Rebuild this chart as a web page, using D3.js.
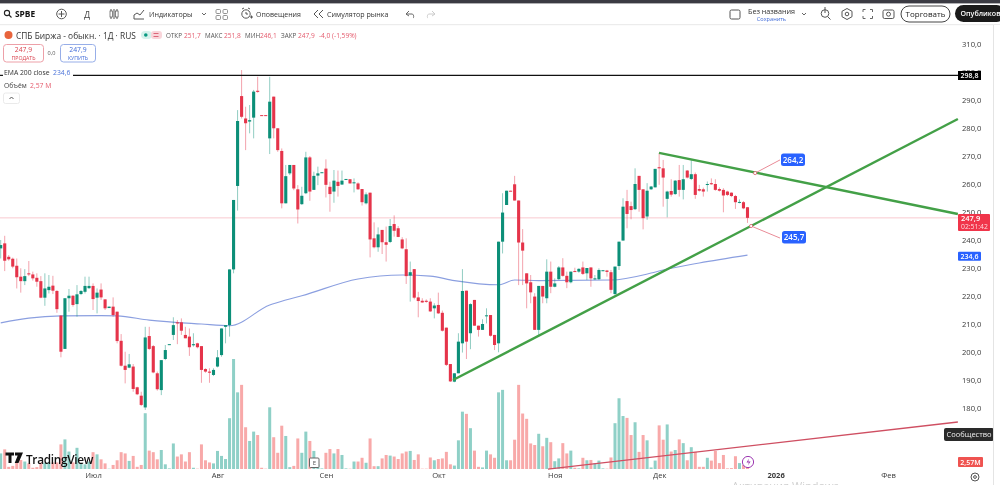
<!DOCTYPE html>
<html lang="ru"><head><meta charset="utf-8">
<script src="https://cdn.jsdelivr.net/npm/d3@7"></script>
<style>
html,body{margin:0;padding:0;background:#fff;overflow:hidden}
svg{display:block;filter:blur(.3px)}
text{font-family:"Open Sans",sans-serif}
.axis .domain{display:none}
.axis text{fill:#3a3a3a;font-family:"Open Sans",sans-serif}
</style></head><body>
<svg id="c" width="1000" height="485" viewBox="0 0 1000 485"></svg>
<script>
const opens=[237.0,238.8,234.0,233.3,230.8,226.9,225.3,228.1,227.7,226.5,
225.3,219.4,222.1,223.7,221.8,213.0,201.1,219.2,220.1,217.1,
220.7,221.5,222.8,223.6,219.4,222.3,218.8,215.7,216.2,214.4,
204.0,195.1,194.4,194.8,187.4,184.4,180.2,205.7,202.1,192.4,
186.4,197.5,202.7,206.1,210.6,210.6,206.1,205.5,202.4,203.1,
202.1,193.9,193.0,191.8,194.8,198.9,209.0,209.6,229.5,259.3,
291.4,283.4,282.3,283.7,293.3,284.6,284.6,276.3,291.2,279.9,
271.8,253.1,263.8,266.8,258.1,252.8,256.7,269.5,257.9,263.0,
264.0,265.5,259.0,257.3,260.8,259.8,261.7,261.7,260.4,260.2,
258.2,253.1,256.9,240.6,237.4,243.6,239.2,239.3,245.7,244.2,
240.2,236.7,227.3,229.6,219.5,218.3,218.3,218.0,215.6,216.8,
214.0,208.7,195.7,189.4,192.4,203.1,221.9,206.7,218.6,209.4,
207.9,212.9,213.2,206.1,203.1,239.4,252.5,257.6,259.9,254.1,
239.1,228.1,224.9,219.8,207.9,223.6,219.2,228.7,223.3,226.0,
230.2,227.2,224.9,228.9,228.7,230.2,228.1,230.2,226.2,226.0,
228.9,229.1,228.5,220.7,230.7,239.8,253.9,252.1,251.0,262.9,
258.1,248.4,258.1,258.8,266.0,265.6,254.7,257.5,256.4,261.4,
257.9,264.8,261.8,263.5,258.2,258.1,259.7,260.3,260.0,258.2,
257.9,257.3,256.9,255.7,253.3,253.5,251.7];
const closes=[238.2,232.6,233.1,230.5,226.7,225.3,227.1,227.7,226.3,225.1,
219.4,222.7,223.3,221.9,215.3,200.1,219.2,220.1,216.8,220.6,
221.8,223.6,223.6,218.9,221.2,219.5,215.6,216.2,213.2,203.9,
195.1,193.6,195.6,186.8,184.9,181.1,205.2,201.1,192.7,186.7,
197.1,200.7,202.8,209.6,210.2,207.6,204.9,201.7,202.8,201.7,
193.6,193.0,192.6,193.6,198.1,208.4,209.6,229.5,254.3,282.5,
284.0,281.7,282.8,293.0,292.9,284.5,284.5,289.4,279.9,272.1,
253.1,262.8,266.8,258.4,250.9,255.8,269.5,257.3,262.9,263.8,
264.2,259.7,256.4,261.2,259.3,261.2,261.8,260.2,260.6,258.1,
253.5,256.3,240.2,237.4,242.0,239.2,238.3,245.0,243.3,241.1,
237.0,227.1,228.5,219.4,218.2,217.7,217.9,214.5,216.6,213.8,
207.6,195.4,189.5,192.4,203.7,221.8,203.7,217.1,209.4,207.9,
210.0,213.1,205.8,202.5,239.4,249.8,257.6,257.5,254.1,239.1,
236.2,224.5,221.3,207.9,223.6,219.8,228.7,223.3,224.5,230.2,
227.2,224.9,228.7,228.7,229.7,227.9,230.0,226.3,226.3,229.3,
229.2,228.6,222.2,230.5,239.4,251.9,249.3,250.7,260.0,257.9,
247.8,257.6,259.1,265.4,265.6,262.3,257.3,256.2,261.2,257.9,
261.7,262.3,263.5,256.1,257.6,257.3,260.0,259.9,257.9,257.6,
255.9,256.1,255.7,253.5,253.6,251.3,247.9];
const highs=[240.0,241.5,234.6,233.7,233.4,229.9,229.6,232.5,228.7,228.1,
227.1,228.1,227.5,227.2,222.1,213.2,219.2,222.5,220.3,223.9,
222.1,226.9,226.9,224.5,222.7,224.5,218.8,216.2,219.5,214.4,
206.4,200.1,199.3,195.7,187.6,185.8,209.0,209.0,202.5,193.0,
197.1,202.5,202.8,212.4,211.4,212.0,209.0,208.4,206.7,203.3,
202.1,194.2,194.2,194.2,200.7,208.4,209.6,229.5,254.3,286.4,
300.7,287.6,288.2,293.6,298.3,284.6,284.6,298.3,291.2,279.9,
272.7,266.8,266.8,266.8,259.6,259.0,271.5,270.0,264.4,266.2,
264.2,268.8,260.8,265.0,264.8,264.8,261.8,261.7,262.0,260.6,
258.2,257.0,256.9,246.3,244.5,243.6,244.8,247.5,248.8,245.0,
241.0,240.6,232.3,229.6,221.5,219.2,218.8,219.2,217.4,221.2,
214.8,208.7,195.7,192.4,206.7,229.6,221.9,217.4,218.6,209.4,
211.7,215.6,213.2,206.1,239.4,256.7,257.6,257.6,262.9,254.1,
243.9,228.1,227.5,221.0,223.6,223.6,233.1,232.3,226.3,230.7,
233.5,228.7,228.7,230.1,229.9,232.3,230.0,230.2,227.5,229.9,
229.2,229.3,229.3,230.5,239.4,254.9,257.9,253.7,265.6,262.9,
258.1,260.3,259.3,265.4,271.0,268.6,257.6,261.7,261.4,266.8,
266.8,265.0,268.6,264.1,259.7,258.7,260.9,262.0,261.7,258.8,
258.5,257.6,257.0,256.1,254.5,253.9,251.8];
const lows=[233.4,228.9,232.6,229.9,222.7,221.2,223.9,227.1,225.5,223.3,
219.2,216.5,220.9,220.7,214.0,198.1,201.1,214.4,216.2,212.6,
220.3,220.9,222.5,215.0,213.8,218.6,215.0,215.7,212.6,203.1,
194.8,188.8,194.2,185.8,184.6,180.7,179.3,200.7,192.4,186.2,
184.6,197.1,202.7,204.3,202.8,206.1,204.9,198.6,201.9,201.3,
189.0,192.6,189.0,191.4,194.5,198.3,203.1,205.5,228.1,250.5,
283.4,272.1,278.1,276.3,292.6,284.5,284.5,270.7,276.3,271.5,
251.3,253.1,263.2,257.8,245.9,252.5,256.4,254.0,257.9,259.6,
264.0,255.2,250.1,253.3,255.5,259.7,261.7,260.2,257.0,257.9,
252.3,252.7,233.8,237.0,235.8,235.0,232.3,238.9,241.2,241.0,
236.7,224.3,218.0,218.8,212.4,217.6,217.6,214.3,212.0,213.6,
207.3,195.0,189.3,189.2,192.4,199.8,197.5,201.0,209.4,205.5,
207.9,210.2,205.5,200.7,199.9,235.2,252.5,257.5,254.1,223.9,
223.9,215.6,217.4,207.9,205.5,217.4,217.4,221.0,223.1,225.7,
226.9,222.8,224.5,228.7,228.3,227.5,225.7,223.3,225.7,225.7,
228.9,226.9,221.0,220.4,229.3,239.8,244.2,247.4,250.7,250.1,
243.8,247.2,257.9,258.8,259.7,251.9,248.1,255.5,256.1,255.5,
254.5,262.0,261.4,254.7,257.3,255.5,257.3,259.7,257.6,257.3,
249.9,255.7,255.3,251.1,253.1,251.0,246.1];
const volumes=[5.0,6.3,0.7,1.0,2.1,2.9,2.4,1.8,0.4,0.6,
2.1,2.0,2.1,2.1,2.1,7.9,9.5,5.6,2.1,6.8,
1.8,1.5,2.4,5.4,4.7,3.1,1.8,0.1,1.3,2.8,
5.4,5.0,2.6,4.2,0.7,1.3,17.9,5.9,5.4,3.1,
6.1,1.5,0.2,8.2,4.0,4.7,2.4,5.4,0.4,0.1,
7.9,2.8,2.1,1.8,5.8,4.2,3.2,16.3,35.3,24.6,
27.0,13.4,9.0,12.0,10.9,0.4,0.1,19.8,10.2,5.2,
13.9,10.6,0.6,1.0,9.8,5.2,12.0,9.0,5.8,1.5,
0.2,5.2,6.4,5.0,6.4,4.5,0.2,0.1,2.4,2.4,
3.6,2.0,9.8,0.9,0.9,3.4,4.5,4.3,4.0,3.2,
5.0,5.6,5.8,2.9,4.7,0.1,0.1,3.7,2.8,3.2,
3.4,5.5,1.5,1.1,9.2,18.4,17.7,13.1,5.9,0.7,
0.5,5.9,4.7,3.6,24.6,25.4,2.8,2.8,9.4,27.0,
17.8,16.1,8.2,7.7,11.3,7.3,10.0,8.6,2.5,3.4,
8.3,5.0,5.9,0.4,0.2,3.6,2.8,2.9,1.8,2.7,
0.2,0.1,3.7,14.7,22.7,17.0,16.4,10.9,15.0,5.5,
10.9,9.2,0.5,2.7,14.0,9.4,14.3,5.6,6.1,9.5,
8.3,2.8,7.0,5.5,0.7,0.7,3.6,2.7,5.8,1.9,
4.5,0.2,0.3,4.1,1.9,1.3,2.57];
const emaIndex=[0,7,15,25,29,37,50,57,67,71,75,89,100,107,113,124,128,134,152,162,165,174,186];
const emaValue=[210.4,212.1,212.9,213,212.9,211.4,210,209.4,216.8,218.6,220.1,226.1,227.5,227.1,225.5,224,225.7,225.5,225.7,228.2,229.3,231.8,234.6];
const priceTicks=[310,300,290,280,270,260,250,240,230,220,210,200,190,180];
const monthIndex=[23,54,81,109,138,164,193,221];
const monthLabels=["Июл","Авг","Сен","Окт","Ноя","Дек","2026","Фев"];
const trendUp=[[112.66,190],[238.4,283.2]];
const trendDown=[[163.96,271.1],[238.4,249.3]];
const trendRed=[[136.3,158.2],[238.4,175]];
const calloutUp=[[187.9,263.9],[194.1,268.6]];
const calloutDown=[[186.9,245],[194.1,240.7]];
const levelPrice=298.8, lastPrice=247.9, emaLast=234.6;

const svg=d3.select("#c");
const x=d3.scaleLinear().domain([0,186]).range([0.7,0.7+4.015*186]);
const y=d3.scaleLinear().domain([310,180]).range([44,408]);
const v=d3.scaleLinear().domain([0,35.3]).range([469,359]);
const idx=d3.range(opens.length);
const GREEN="#0c8f78",RED="#e5344a";
const col=i=>closes[i]>=opens[i]?GREEN:RED;
const fmt=d=>d.toFixed(1).replace(".",",");

// last price line
svg.append("line").attr("x1",0).attr("x2",958).attr("y1",y(lastPrice)).attr("y2",y(lastPrice)).attr("stroke","#f9c9cf").attr("stroke-width",1);

// volumes
svg.append("g").selectAll("rect").data(idx).join("rect")
 .attr("x",i=>x(i)-1.5).attr("width",3).attr("y",i=>v(volumes[i])).attr("height",i=>469-v(volumes[i]))
 .attr("fill",i=>closes[i]>=opens[i]?"#8fd0c7":"#f8a9a9");

// EMA
svg.append("path").datum(emaIndex.map((d,i)=>[d,emaValue[i]]))
 .attr("d",d3.line().x(d=>x(d[0])).y(d=>y(d[1])).curve(d3.curveMonotoneX))
 .attr("fill","none").attr("stroke","#8b9fe0").attr("stroke-width",1.1);

// candles
const g=svg.append("g");
g.selectAll("line").data(idx).join("line")
 .attr("x1",i=>x(i)).attr("x2",i=>x(i)).attr("y1",i=>y(highs[i])).attr("y2",i=>y(lows[i]))
 .attr("stroke",col).attr("stroke-width",1).attr("stroke-opacity",.45);
g.selectAll("rect").data(idx).join("rect")
 .attr("x",i=>x(i)-1.55).attr("width",3.1)
 .attr("y",i=>y(Math.max(opens[i],closes[i])))
 .attr("height",i=>Math.max(1,Math.abs(y(opens[i])-y(closes[i]))))
 .attr("fill",col);

// trend lines
const ln=d3.line().x(d=>x(d[0])).y(d=>y(d[1]));
svg.append("path").attr("d",ln(trendRed)).attr("stroke","#cf4f62").attr("stroke-width",1.3).attr("fill","none");
svg.append("path").attr("d",ln(trendUp)).attr("stroke","#43a047").attr("stroke-width",2.4).attr("fill","none");
svg.append("path").attr("d",ln(trendDown)).attr("stroke","#43a047").attr("stroke-width",2.4).attr("fill","none");
svg.append("line").attr("x1",73).attr("x2",958).attr("y1",y(levelPrice)).attr("y2",y(levelPrice)).attr("stroke","#111").attr("stroke-width",1.2);
svg.append("line").attr("x1",0).attr("x2",3).attr("y1",y(levelPrice)).attr("y2",y(levelPrice)).attr("stroke","#111").attr("stroke-width",1.2);

// callouts
[[calloutUp,"264,2",781,153.5,24],[calloutDown,"245,7",782,231,24]].forEach(([c,t,bx,by,bw])=>{
 svg.append("path").attr("d",ln(c)).attr("stroke","#e98b97").attr("stroke-width",1).attr("fill","none");
 svg.append("circle").attr("cx",x(c[0][0])).attr("cy",y(c[0][1])).attr("r",1.6).attr("fill","#fff").attr("stroke","#d9616f").attr("stroke-width",.8);
 svg.append("rect").attr("x",bx).attr("y",by).attr("width",bw).attr("height",12.5).attr("rx",2.5).attr("fill","#2962ff");
 svg.append("text").attr("x",bx+bw/2).attr("y",by+9).attr("text-anchor","middle").attr("font-size",8).attr("font-weight",600).attr("fill","#fff").text(t);
});

// axes
const ay=svg.append("g").attr("class","axis").attr("transform","translate(962,0)")
 .call(d3.axisRight(y).tickValues(priceTicks).tickSize(0).tickPadding(0).tickFormat(fmt));
ay.selectAll("text").attr("font-size",7.6);
const ax=svg.append("g").attr("class","axis").attr("transform","translate(0,473)")
 .call(d3.axisBottom(x).tickValues(monthIndex).tickSize(0).tickPadding(0).tickFormat((d,i)=>monthLabels[i]));
ax.selectAll("text").attr("font-size",7.6).attr("dy","0.6em").attr("font-weight",d=>d===193?700:400);

// helpers
const T=(s,tx,ty,o={})=>svg.append("text").attr("x",tx).attr("y",ty).attr("font-size",o.fs||8).attr("fill",o.c||"#333").attr("font-weight",o.w||400).attr("text-anchor",o.a||"start").text(s);
const R=(rx,ry,w,h,f,o={})=>svg.append("rect").attr("x",rx).attr("y",ry).attr("width",w).attr("height",h).attr("fill",f).attr("rx",o.r||0).attr("stroke",o.s||"none").attr("stroke-width",o.sw||1);
const P=(d,o={})=>svg.append("path").attr("d",d).attr("fill",o.f||"none").attr("stroke",o.s||"#555").attr("stroke-width",o.w||1);
const C=(cx,cy,r,o={})=>svg.append("circle").attr("cx",cx).attr("cy",cy).attr("r",r).attr("fill",o.f||"none").attr("stroke",o.s||"#555").attr("stroke-width",o.w||1);

// price tags
R(958,71,23,9,"#000");T("298,8",969.5,78,{fs:7,c:"#fff",a:"middle",w:600});
R(958,214,32,17,"#f0354a",{r:1});T("247,9",961,221,{fs:7.5,c:"#fff",w:600});T("02:51:42",961,229,{fs:6.8,c:"#ffd9dd"});
R(958,251.7,23,9,"#2962ff",{r:1});T("234,6",969.5,259,{fs:7,c:"#fff",a:"middle",w:600});
R(958,457,25,10,"#ef5350",{r:1});T("2,57M",970.5,465,{fs:7,c:"#fff",a:"middle",w:600});
R(944,428,50,13,"#2a2a2a",{r:2});T("Сообщество",969,437.3,{fs:7.5,c:"#eee",a:"middle"});
P("M994 432l2.5 2.5l-2.5 2.5z",{f:"#2a2a2a",s:"none"});

// frame
R(0,0,1000,3.4,"#3b3b43");
R(0,24,1000,1.2,"#ececec");
R(993,25,1,460,"#e4e4e4");
R(994,25,6,460,"#fff");
R(955,5,50,17,"#1a1a1a",{r:8.5});
T("Опубликов",960.5,16.3,{fs:7.1,c:"#fff",w:600});
R(901,6,49,16,"#fff",{r:8,s:"#444"});
T("Торговать",925.5,16.5,{fs:8,c:"#222",a:"middle",w:500});

// toolbar
C(7,13,2.6,{s:"#222",w:1.1});P("M9 15l2.5 2.5",{s:"#222",w:1.1});
T("SPBE",15,17,{fs:8.4,c:"#111",w:700});
C(61.5,14,4.8);P("M61.5 11v6M58.5 14h6");
T("Д",84,17.5,{fs:9,c:"#444"});
P("M111 9v10M114 9v10M117 9v10",{s:"#555"});R(110,11,2.4,6,"#fff",{s:"#555",sw:.7});R(115.5,11,2.6,6,"#fff",{s:"#555",sw:.7});
P("M134 19h10M134 19v-4l3-2 3 2 4-5",{s:"#555"});
T("Индикаторы",149,17,{fs:7.1,c:"#333",w:500});
P("M202 13l2 2 2-2",{s:"#666"});
[[216,9.5],[223,9.5],[216,15.5],[223,15.5]].forEach(d=>R(d[0],d[1],4.5,4,"#fff",{s:"#777",sw:.8,r:1}));
C(246,14,4.2);P("M244 8l-2 1M248 8l2 1M246 12v2h2");P("M250 17h3M251.5 15.5v3");
T("Оповещения",256,17,{fs:7,c:"#333",w:500});
P("M318 10l-4 4 4 4M323 10l-4 4 4 4");
T("Симулятор рынка",327,17,{fs:7.1,c:"#333",w:500});
P("M406 14h6c2 0 2 4 1 4M406 14l3-3M406 14l3 2",{s:"#666"});
P("M435 14h-6c-2 0-2 4-1 4M435 14l-3-3M435 14l-3 2",{s:"#ccc"});
R(730,10,10,9,"#fff",{s:"#555",r:1.5});
T("Без названия",748,14,{fs:7.2,c:"#333",w:500});
T("Сохранить",771.5,20.5,{fs:5.6,c:"#3f6ad8",a:"middle"});
P("M802 13l2 2 2-2",{s:"#666"});
C(825,13.5,3.8,{s:"#555"});P("M828 17l2.5 2.5M825 7v6",{s:"#555"});
C(847,14,1.8);P("M847 8.5l5 2.8v5.4l-5 2.8-5-2.8v-5.4z");
P("M863 12V9.5h2.5M870 9.5h2.5V12M872.5 16v2.5H870M865.5 18.5H863V16",{s:"#666"});
R(883,10,11,8.5,"#fff",{s:"#555",r:1.5});C(888.5,14.2,2);

// legend
C(8.5,35,4,{f:"#e8643c",s:"none"});
T("СПБ Биржа - обыкн. · 1Д · RUS",16,38.5,{fs:8.4,c:"#333",w:500});
R(141,31,11,8,"#d5f2ec",{r:4});C(145.8,35,1.8,{f:"#089981",s:"none"});
R(151,31,11,8,"#f9d5da",{r:3});P("M153.5 33.5h5M153.5 36.5h5",{s:"#d34a60",w:.8});
const RD="#e45a6c";
[["ОТКР","251,7",166,184],["МАКС","251,8",205,224],["МИН","246,1",245,260],["ЗАКР","247,9",281,298]].forEach(([a,b,xa,xb])=>{
 T(a,xa,37.5,{fs:6.3,c:"#555"});T(b,xb,37.5,{fs:6.6,c:RD});
});
T("-4,0 (-1,59%)",319,37.5,{fs:6.6,c:RD});
R(3.5,44.5,40,17.5,"#fff",{r:3,s:"#eda0a8"});
T("247,9",23.5,52,{fs:6.8,c:"#d9434f",a:"middle"});T("ПРОДАТЬ",23.5,59.5,{fs:5.2,c:"#d9434f",a:"middle"});
T("0,0",51.5,55,{fs:5.6,c:"#555",a:"middle"});
R(60.5,44.5,35,17.5,"#fff",{r:3,s:"#97aee8"});
T("247,9",78,52,{fs:6.8,c:"#3f6ad8",a:"middle"});T("КУПИТЬ",78,59.5,{fs:5.2,c:"#3f6ad8",a:"middle"});
T("EMA 200 close",4,74.5,{fs:6.8,c:"#333"});T("234,6",53,74.5,{fs:6.8,c:"#4a72d9"});
T("Объём",4,87.5,{fs:6.8,c:"#444"});T("2,57 M",30,87.5,{fs:6.8,c:RD});
R(3.5,93,16,10.5,"#fff",{r:2,s:"#eaeaea"});P("M9.5 99l2-2 2 2",{s:"#555"});

// logo
P("M5.5 452.5h8.5v3h-2.5v7.5h-3v-7.5h-3zM15 452.5h8l-4.5 10.5h-3.8l3-7.5h-2.7z",{f:"#111",s:"none"});
T("TradingView",26,463.5,{fs:11.8,c:"#111",w:600}).attr("font-family","Inter,sans-serif").attr("letter-spacing","-.3");
R(309.5,458,9.5,9.5,"#fff",{r:1,s:"#666"});T("E",314.3,465.3,{fs:6,c:"#555",a:"middle"});
C(748,462,5.6,{f:"#fff",s:"#9c37b0"});P("M749 458.5l-2.5 4h2.4l-1 3 2.7-4h-2.4z",{f:"#9c37b0",s:"none"});
C(975,477,4,{s:"#555"});C(975,477,1.4,{s:"#555"});
T("Активация Windows",732,490,{fs:11,c:"#cfcfcf"});
</script></body></html>
